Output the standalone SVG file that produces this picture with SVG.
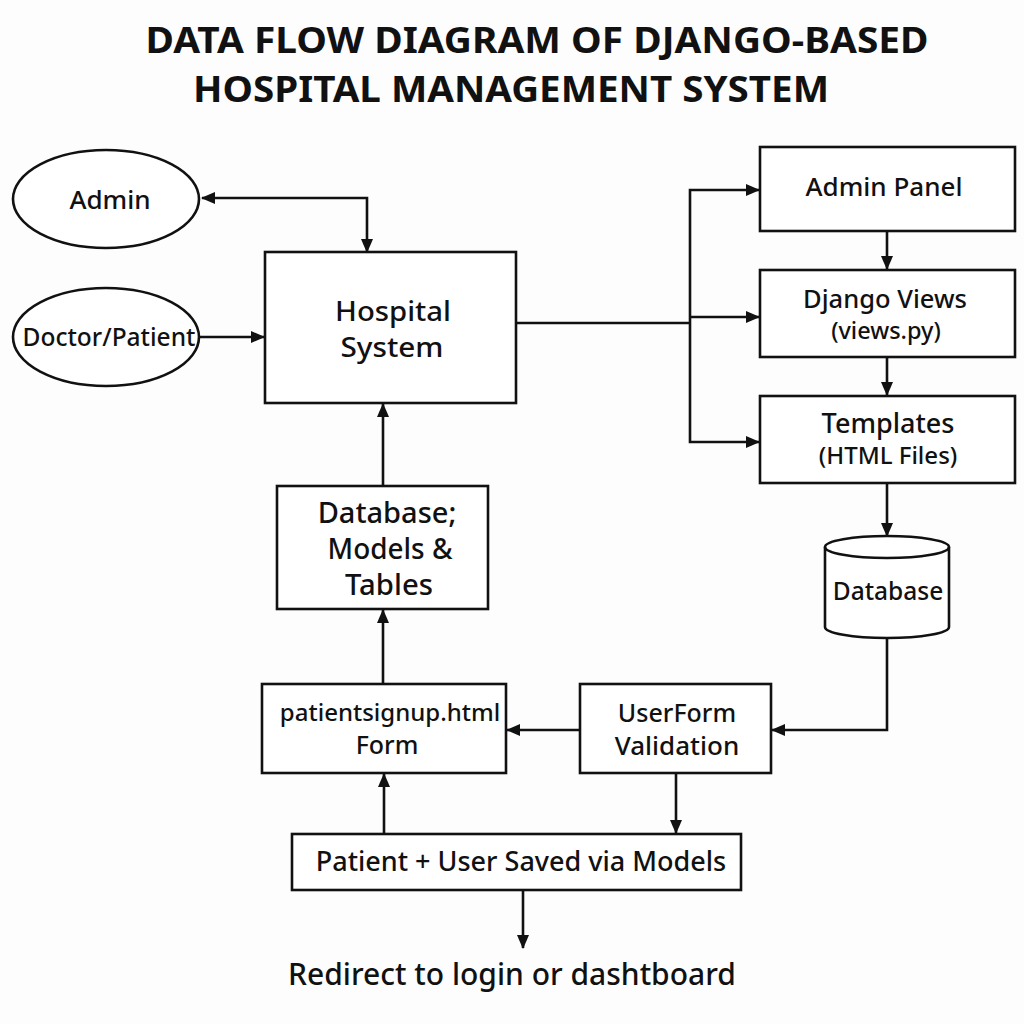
<svg xmlns="http://www.w3.org/2000/svg" width="1024" height="1024" viewBox="0 0 1024 1024">
<defs>
<marker id="ah" viewBox="0 0 14 12" refX="13" refY="6" markerWidth="14" markerHeight="12" markerUnits="userSpaceOnUse" orient="auto-start-reverse">
<path d="M0,0 L14,6 L0,12 Z" fill="#111"/>
</marker>
</defs>
<style>
.box{fill:#fff;stroke:#111;stroke-width:2.6}
.ln{fill:none;stroke:#111;stroke-width:2.6}
.t{font-family:"Noto Sans","Liberation Sans",sans-serif;font-weight:500;fill:#111;text-anchor:middle}
.ttl{font-family:"Noto Sans","Liberation Sans",sans-serif;font-weight:700;fill:#111;text-anchor:middle;font-size:35px}
</style>
<rect width="1024" height="1024" fill="#fdfdfd"/>
<g id="title">
<text class="ttl" x="537" y="53" textLength="783" lengthAdjust="spacingAndGlyphs">DATA FLOW DIAGRAM OF DJANGO-BASED</text>
<text class="ttl" x="511" y="102" textLength="636" lengthAdjust="spacingAndGlyphs">HOSPITAL MANAGEMENT SYSTEM</text>
</g>
<g id="connectors">
<path class="ln" d="M367,252 V198 H202" marker-start="url(#ah)" marker-end="url(#ah)"/>
<path class="ln" d="M200,337 H264" marker-end="url(#ah)"/>
<path class="ln" d="M516,323 H690"/>
<path class="ln" d="M759,190 H690 V442 H759" marker-start="url(#ah)" marker-end="url(#ah)"/>
<path class="ln" d="M690,317 H759" marker-end="url(#ah)"/>
<path class="ln" d="M887,231 V269" marker-end="url(#ah)"/>
<path class="ln" d="M887,357 V395" marker-end="url(#ah)"/>
<path class="ln" d="M887,483 V536" marker-end="url(#ah)"/>
<path class="ln" d="M887,638 V730 H772" marker-end="url(#ah)"/>
<path class="ln" d="M580,730 H507" marker-end="url(#ah)"/>
<path class="ln" d="M383,486 V404" marker-end="url(#ah)"/>
<path class="ln" d="M383,684 V610" marker-end="url(#ah)"/>
<path class="ln" d="M384,834 V774" marker-end="url(#ah)"/>
<path class="ln" d="M676,773 V833" marker-end="url(#ah)"/>
<path class="ln" d="M523,890 V948" marker-end="url(#ah)"/>
</g>
<g id="admin">
<ellipse class="box" cx="106" cy="199" rx="93" ry="49"/>
<text class="t" x="110" y="209" font-size="26">Admin</text>
</g>
<g id="doctor-patient">
<ellipse class="box" cx="106" cy="337" rx="93" ry="49"/>
<text class="t" x="109" y="346" font-size="24.5">Doctor/Patient</text>
</g>
<g id="hospital-system">
<rect class="box" x="265" y="252" width="251" height="151"/>
<text class="t" x="393" y="321" font-size="27" textLength="116" lengthAdjust="spacingAndGlyphs">Hospital</text>
<text class="t" x="392" y="357" font-size="27" textLength="103" lengthAdjust="spacingAndGlyphs">System</text>
</g>
<g id="admin-panel">
<rect class="box" x="760" y="147" width="255" height="84"/>
<text class="t" x="884" y="196" font-size="26">Admin Panel</text>
</g>
<g id="django-views">
<rect class="box" x="760" y="270" width="255" height="87"/>
<text class="t" x="885" y="308" font-size="25.5">Django Views</text>
<text class="t" x="886" y="339" font-size="23.5">(views.py)</text>
</g>
<g id="templates">
<rect class="box" x="760" y="396" width="255" height="87"/>
<text class="t" x="888" y="433" font-size="27">Templates</text>
<text class="t" x="888" y="464" font-size="24">(HTML Files)</text>
</g>
<g id="database">
<path class="box" d="M825,547 A62,11 0 0 1 949,547 V627 A62,11 0 0 1 825,627 Z"/>
<path class="ln" d="M825,547 A62,11 0 0 0 949,547"/>
<text class="t" x="888" y="600" font-size="24.5">Database</text>
</g>
<g id="db-models">
<rect class="box" x="277" y="486" width="211" height="123"/>
<text class="t" x="387" y="523" font-size="29">Database;</text>
<text class="t" x="390" y="559" font-size="28" textLength="125" lengthAdjust="spacingAndGlyphs">Models &amp;</text>
<text class="t" x="389" y="595" font-size="28" textLength="88" lengthAdjust="spacingAndGlyphs">Tables</text>
</g>
<g id="patientsignup">
<rect class="box" x="262" y="684" width="244" height="89"/>
<text class="t" x="390" y="721" font-size="24">patientsignup.html</text>
<text class="t" x="387" y="754" font-size="25">Form</text>
</g>
<g id="userform">
<rect class="box" x="580" y="684" width="191" height="89"/>
<text class="t" x="677" y="722" font-size="25">UserForm</text>
<text class="t" x="677" y="755" font-size="26">Validation</text>
</g>
<g id="saved">
<rect class="box" x="292" y="834" width="449" height="56"/>
<text class="t" x="521" y="871" font-size="27">Patient + User Saved via Models</text>
</g>
<g id="redirect">
<text class="t" x="512" y="985" font-size="30">Redirect to login or dashtboard</text>
</g>
</svg>
